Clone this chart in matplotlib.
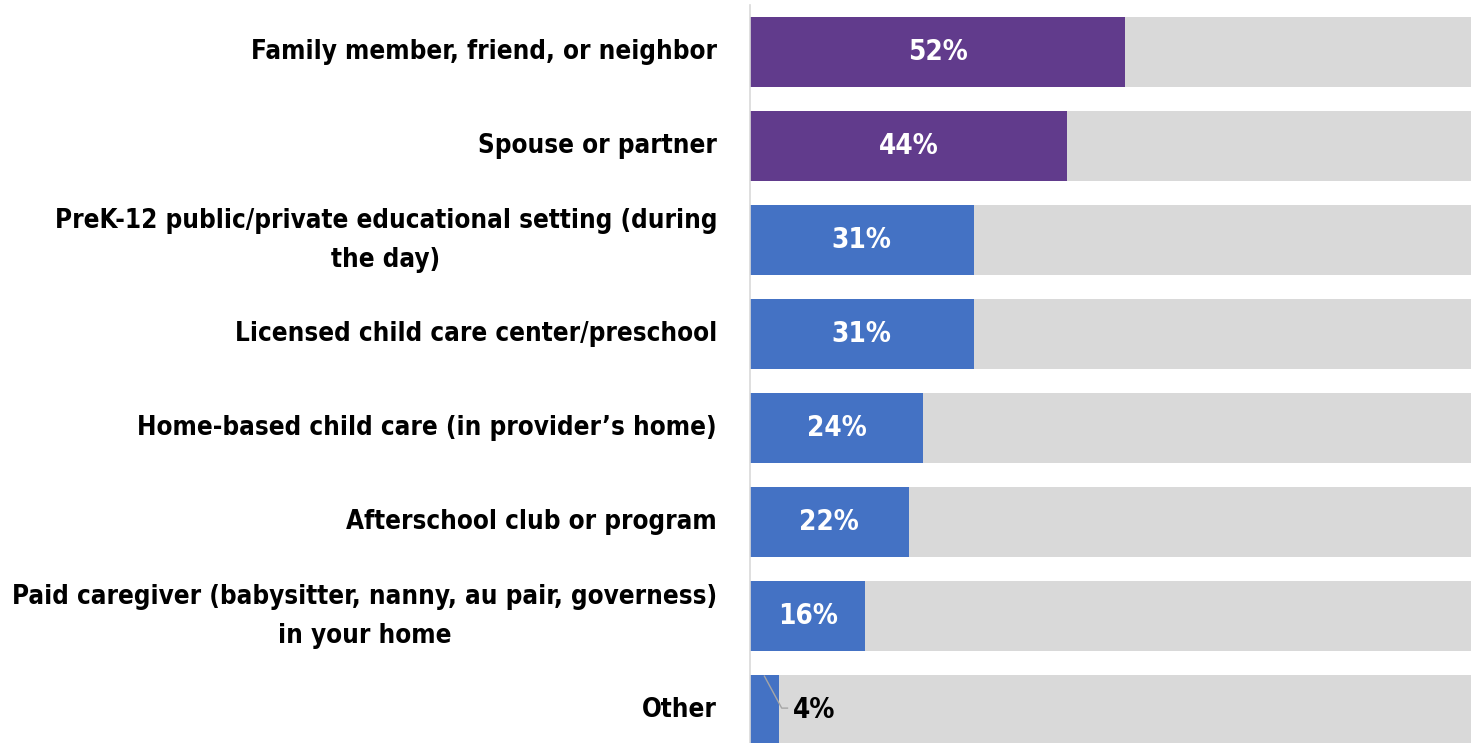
import matplotlib.pyplot as plt

# Data
labels = [
    "Family member, friend, or neighbor",
    "Spouse or partner",
    "PreK-12 public/private educational setting (during\nthe day)",
    "Licensed child care center/preschool",
    "Home-based child care (in provider\u2019s home)",
    "Afterschool club or program",
    "Paid caregiver (babysitter, nanny, au pair, governess)\nin your home",
    "Other",
]
values = [52, 44, 31, 31, 24, 22, 16, 4]
bar_colors = ["#613B8C", "#613B8C"] + ["#4472C4"] * 6

plt.rcParams['font.family'] = ["DejaVu Sans"]
plt.rcParams['font.stretch'] = "condensed"

fig = plt.figure(figsize=(14.78, 7.43), dpi=100)
ax = fig.add_axes([750 / 1478, 0, 721 / 1478, 738 / 743])

y = list(range(len(labels)))
ax.barh(y, [100] * len(y), height=0.745, color="#D9D9D9")
ax.barh(y, values, height=0.745, color=bar_colors)

ax.set_xlim(0, 100)
ax.set_ylim(7.351, -0.5)

for i, v in enumerate(values):
    if v >= 10:
        ax.text(v / 2, i, f"{v}%", ha="center", va="center", color="white",
                fontsize=20, fontweight="bold", fontstretch="condensed")
    else:
        ax.plot([2.0, 4.4, 5.2], [i - 0.36, i - 0.02, i - 0.02], color="#A6A6A6", lw=1)
        ax.text(6.0, i, f"{v}%", ha="left", va="center", color="black",
                fontsize=20, fontweight="bold", fontstretch="condensed")

# category labels left of the axis, multi-line ones centred on their bar
for i, lab in enumerate(labels):
    ax.text(-33 / 721, i, lab, transform=ax.get_yaxis_transform(),
            ha="right", va="center", multialignment="center",
            fontsize=18.6, fontweight="bold", fontstretch="condensed",
            linespacing=1.65)

ax.set_yticks([])
ax.set_xticks([])
for s in ["top", "right", "bottom"]:
    ax.spines[s].set_visible(False)
ax.spines["left"].set_color("#D9D9D9")
ax.spines["left"].set_linewidth(1.2)

fig.savefig("out.png", dpi=100)
